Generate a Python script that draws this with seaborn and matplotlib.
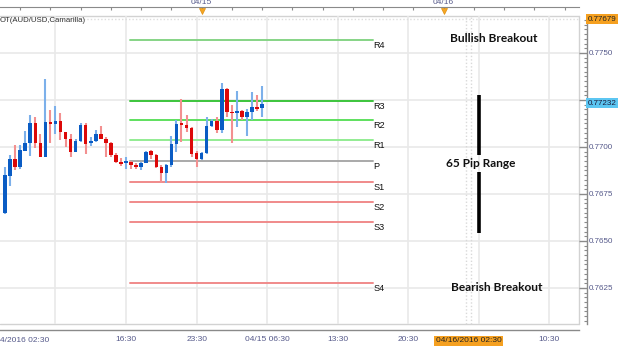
import numpy as np
import pandas as pd
import matplotlib
matplotlib.use("Agg")
import matplotlib.pyplot as plt
import matplotlib.transforms as mtransforms
from matplotlib.ticker import MultipleLocator
import seaborn as sns

# ---------------- data ----------------
# 30-minute candles, time in hours relative to 04/15/2016 00:00
bar_start_hour = -19.5
bar_step_hours = 0.5
opens = [0.76649, 0.76847, 0.76934, 0.76895, 0.76980, 0.77023, 0.77129, 0.77020, 0.76948, 0.77133,
         0.77122, 0.77138, 0.77078, 0.77042, 0.76973, 0.77030, 0.77119, 0.77023, 0.77033, 0.77069,
         0.77044, 0.77023, 0.76957, 0.76922, 0.76913, 0.76922, 0.76903, 0.76892, 0.76916, 0.76979,
         0.76957, 0.76895, 0.76860, 0.76904, 0.77016, 0.77126, 0.77117, 0.77103, 0.76966, 0.76938,
         0.76966, 0.77112, 0.77140, 0.77090, 0.77309, 0.77188, 0.77182, 0.77190, 0.77161, 0.77188,
         0.77214, 0.77206]
closes = [0.76851, 0.76934, 0.76895, 0.76984, 0.77023, 0.77129, 0.77020, 0.76948, 0.77133, 0.77122,
          0.77138, 0.77078, 0.77041, 0.76972, 0.77030, 0.77119, 0.77016, 0.77033, 0.77069, 0.77044,
          0.77023, 0.76957, 0.76922, 0.76910, 0.76925, 0.76903, 0.76892, 0.76916, 0.76975, 0.76956,
          0.76892, 0.76860, 0.76904, 0.77016, 0.77122, 0.77117, 0.77101, 0.76963, 0.76938, 0.76970,
          0.77112, 0.77138, 0.77090, 0.77309, 0.77185, 0.77181, 0.77191, 0.77161, 0.77188, 0.77214,
          0.77204, 0.77229]
highs = [0.76895, 0.76957, 0.77011, 0.77011, 0.77087, 0.77170, 0.77160, 0.77069, 0.77362, 0.77197,
         0.77220, 0.77182, 0.77081, 0.77069, 0.77044, 0.77129, 0.77126, 0.77052, 0.77089, 0.77112,
         0.77052, 0.77027, 0.76970, 0.76940, 0.76945, 0.76925, 0.76913, 0.76922, 0.76980, 0.76984,
         0.76961, 0.76903, 0.76910, 0.77058, 0.77144, 0.77255, 0.77170, 0.77108, 0.76980, 0.76975,
         0.77158, 0.77147, 0.77158, 0.77339, 0.77312, 0.77223, 0.77298, 0.77197, 0.77201, 0.77293,
         0.77277, 0.77324]
lows = [0.76643, 0.76792, 0.76878, 0.76883, 0.76978, 0.76954, 0.76993, 0.76945, 0.76946, 0.77023,
        0.77069, 0.77037, 0.76998, 0.76945, 0.76971, 0.77027, 0.76961, 0.77005, 0.77027, 0.77041,
        0.76948, 0.76948, 0.76916, 0.76899, 0.76881, 0.76881, 0.76881, 0.76878, 0.76913, 0.76934,
        0.76890, 0.76807, 0.76810, 0.76895, 0.76975, 0.77025, 0.77081, 0.76948, 0.76892, 0.76931,
        0.76963, 0.77108, 0.77076, 0.77076, 0.77158, 0.77020, 0.77108, 0.77144, 0.77058, 0.77144,
        0.77193, 0.77161]

pivot_names = ["R4", "R3", "R2", "R1", "P", "S1", "S2", "S3", "S4"]
pivot_values = [0.77569, 0.77247, 0.77142, 0.77036, 0.76926, 0.76815, 0.76709, 0.76603, 0.76278]
pivot_colors = ["#86d486", "#3cc43c", "#5ee05e", "#93ec93", "#a9a9a9",
                "#f08a8a", "#f08a8a", "#f08a8a", "#f08a8a"]
pivot_start_hour = -7.1
pivot_end_hour = 17.0

bottom_tick_hours = [-14.5, -7.5, -0.5, 6.5, 13.5, 20.5, 27.5, 34.5]
bottom_tick_labels = ["", "16:30", "23:30", "04/15 06:30", "13:30", "20:30", "", "10:30"]
top_tick_hours = list(np.arange(-18, 37, 3))
day_marks_hours = [0, 24]
day_marks_labels = ["04/15", "04/16"]
price_ticks = [0.7625, 0.7650, 0.7675, 0.7700, 0.7725, 0.7750]
price_labels = ["0.7625", "0.7650", "0.7675", "0.7700", "", "0.7750"]
high_price_label = 0.77679
last_price_label = 0.77232
cursor_hour = 26.5

# range bar (annotation) segments: lower [0.76541, 0.76869], upper [0.76957, 0.77275]
range_bar_lo = [0.76541, 0.76957]
range_bar_hi = [0.76869, 0.77275]

# ---------------- style ----------------
sns.set_style("white")
plt.rcParams["font.family"] = ["Liberation Sans", "DejaVu Sans"]

W, H = 623, 349
fig = plt.figure(figsize=(W / 100, H / 100), dpi=100)
ax_l, ax_r, ax_t, ax_b = 0, 579, 16, 324
ax = fig.add_axes([ax_l / W, (H - ax_b) / H, (ax_r - ax_l) / W, (ax_b - ax_t) / H])
ax_h_px = ax_b - ax_t
ax.set_xlim(-20.0, 37.43)
ax.set_ylim(0.760585, 0.776968)

n = len(opens)
df = pd.DataFrame({
    "t": bar_start_hour + bar_step_hours * np.arange(n),
    "open": opens, "high": highs, "low": lows, "close": closes,
})
df["bull"] = df["close"] >= df["open"]
df["body_lo"] = df[["open", "close"]].min(axis=1)
df["body_h"] = (df["close"] - df["open"]).abs().clip(lower=0.00004)

body_blue, body_red = "#0a5cc4", "#dc0808"
wick_blue, wick_red = "#7cb0ea", "#f39090"

# grid
ax.set_xticks(bottom_tick_hours, bottom_tick_labels)
ax.xaxis.set_minor_locator(MultipleLocator(1.0, offset=0.5))
ax.set_yticks(price_ticks, price_labels)
ax.yaxis.set_minor_locator(MultipleLocator(0.00025))
ax.grid(True, which="major", color="#e9e9e9", lw=1.2)
ax.set_axisbelow(True)

# cursor dotted lines / top dotted line
for xh in (cursor_hour - 0.25, cursor_hour + 0.25):
    ax.axvline(xh, color="#d9d9d9", lw=1, ls=(0, (1, 1.5)), zorder=1)
ax.axhline(high_price_label, color="#dddddd", lw=1, ls=(0, (1, 1.5)), zorder=1)

# wicks & bodies
ax.vlines(df["t"], df["low"], df["high"],
          colors=np.where(df["bull"], wick_blue, wick_red), lw=1.5, zorder=3)
ax.bar(df["t"], df["body_h"], bottom=df["body_lo"], width=0.35,
       color=np.where(df["bull"], body_blue, body_red), lw=0, zorder=4)

# pivot lines via seaborn
piv = pd.DataFrame({
    "name": np.repeat(pivot_names, 2),
    "x": [pivot_start_hour, pivot_end_hour] * len(pivot_names),
    "y": np.repeat(pivot_values, 2),
})
sns.lineplot(data=piv, x="x", y="y", hue="name", palette=dict(zip(pivot_names, pivot_colors)),
             lw=1.4, legend=False, ax=ax, zorder=2, estimator=None, sort=False)
for nm, v in zip(pivot_names, pivot_values):
    ax.text(pivot_end_hour + 0.05, v - 0.00005, nm, ha="left", va="top", fontsize=6.6,
            color="#111111")
ax.set_xlabel("")
ax.set_ylabel("")

# annotations
ax.vlines([27.5, 27.5], range_bar_lo, range_bar_hi, colors="black", lw=2.6, zorder=5)
txt_kw = dict(ha="center", va="center", fontsize=8.6, fontweight="bold", color="#111111",
              family=["Lato", "DejaVu Sans"], zorder=6)
ax.text(27.7, 0.76910, "65 Pip Range", **txt_kw)
ax.text(28.97, 0.77576, "Bullish Breakout", **txt_kw)
ax.text(29.27, 0.76254, "Bearish Breakout", **txt_kw)
ax.text(0.0, (ax_b - 20.5) / ax_h_px, "OT(AUD/USD,Camarilla)", transform=ax.transAxes,
        ha="left", va="center", fontsize=5.6, color="#333333")

# spines / axes
slate = "#55598a"
axis_col = "#8a8a8a"
ax.spines["left"].set_visible(False)
for s in ("top", "bottom", "right"):
    ax.spines[s].set_color(axis_col)
    ax.spines[s].set_linewidth(1.0)
ax.spines["top"].set_visible(False)
ax.spines["right"].set_position(("outward", 8 * 0.72))
ax.spines["bottom"].set_position(("outward", 6 * 0.72))
ax.yaxis.tick_right()
ax.tick_params(axis="y", which="major", direction="in", length=8 * 0.72, width=1, color=axis_col,
               pad=1.5, labelsize=5.8, labelcolor=slate, left=False, right=True)
ax.tick_params(axis="y", which="minor", direction="in", length=2.5, width=0.8, color=axis_col,
               left=False, right=True)
ax.tick_params(axis="x", which="major", direction="in", length=6 * 0.72, width=1, color=axis_col,
               pad=4, labelsize=6, labelcolor=slate)
ax.tick_params(axis="x", which="minor", direction="in", length=2.2, width=0.8, color=axis_col)

# inner frame
frame_kw = dict(transform=ax.transAxes, color="#d2d2d2", lw=1, clip_on=False, zorder=0)
ax.plot([1, 1], [0, 1], **frame_kw)
ax.plot([0, 1], [1, 1], **frame_kw)
ax.plot([0, 1], [0, 0], **frame_kw)

# top axis
sec = ax.secondary_xaxis(1 + 9 / ax_h_px)
sec.set_xticks(top_tick_hours)
sec.tick_params(axis="x", direction="in", length=2.5, width=0.8, color=axis_col, labeltop=False,
                labelbottom=False)
for s in sec.spines.values():
    s.set_color(axis_col)
blend_top = mtransforms.blended_transform_factory(ax.transData, ax.transAxes)
for h, lab in zip(day_marks_hours, day_marks_labels):
    ax.text(h, (ax_b - 5.5) / ax_h_px, lab, transform=blend_top, ha="center", va="bottom",
            fontsize=6, color=slate, clip_on=False)
    ax.plot([h], [(ax_b - 10.5) / ax_h_px], marker="v", ms=5, color="#f5a623", mec="#e08f10",
            mew=0.5, transform=blend_top, clip_on=False, zorder=7)

# price highlight labels on right axis
blend_right = mtransforms.blended_transform_factory(ax.transAxes, ax.transData)
x_lab = (ax_r + 9) / ax_r
ax.text(x_lab, high_price_label, f"{high_price_label:.5f}", transform=blend_right, ha="left",
        va="center", fontsize=5.8, color="#222222", clip_on=False,
        bbox=dict(boxstyle="square,pad=0.2", fc="#f5a020", ec="none"))
ax.text(x_lab, last_price_label, f"{last_price_label:.5f}", transform=blend_right, ha="left",
        va="center", fontsize=5.8, color="#1a1a3a", clip_on=False,
        bbox=dict(boxstyle="square,pad=0.2", fc="#5cc6f2", ec="none"))

# bottom cursor label and left-edge label
ax.text(cursor_hour, -(341 - ax_b) / ax_h_px, "04/16/2016 02:30", transform=blend_top,
        ha="center", va="center", fontsize=6, color="#222222", clip_on=False,
        bbox=dict(boxstyle="square,pad=0.2", fc="#f5a020", ec="none"))
ax.text(0.0, -(341 - ax_b) / ax_h_px, "4/2016 02:30", transform=ax.transAxes,
        ha="left", va="center", fontsize=6, color=slate, clip_on=False)

fig.savefig("out.png", dpi=100)
